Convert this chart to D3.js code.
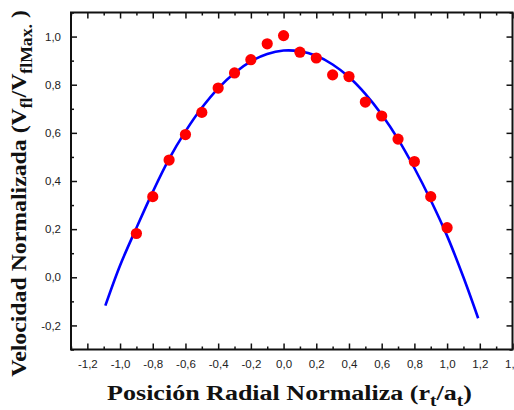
<!DOCTYPE html>
<html>
<head>
<meta charset="utf-8">
<script src="https://cdn.jsdelivr.net/npm/d3@7"></script>
<style>
  html, body { margin: 0; padding: 0; background: #fff; overflow: hidden; }
  svg { display: block; }
</style>
</head>
<body>
<svg id="chart" width="514" height="410"></svg>
<script>
// Measured points (normalized radial position, normalized velocity)
const pointX = [-0.9, -0.8, -0.7, -0.6, -0.5, -0.4, -0.3, -0.2, -0.1, 0.0, 0.1, 0.2, 0.3, 0.4, 0.5, 0.6, 0.7, 0.8, 0.9, 1.0];
const pointY = [0.182, 0.335, 0.487, 0.593, 0.685, 0.786, 0.849, 0.904, 0.970, 1.004, 0.935, 0.911, 0.841, 0.834, 0.728, 0.670, 0.574, 0.481, 0.335, 0.206];

// Fitted curve
const curveX = [-1.09, -1.0, -0.9, -0.8, -0.7, -0.6, -0.5, -0.4, -0.3, -0.2, -0.1, 0.0, 0.1, 0.2, 0.3, 0.4, 0.5, 0.6, 0.7, 0.8, 0.9, 1.0, 1.1, 1.19];
const curveY = [-0.118, 0.049, 0.205, 0.355, 0.492, 0.606, 0.704, 0.785, 0.849, 0.897, 0.928, 0.942, 0.939, 0.920, 0.884, 0.832, 0.762, 0.676, 0.574, 0.454, 0.320, 0.172, 0.0, -0.170];

// Tick values and labels
const xTicks = [-1.2, -1.0, -0.8, -0.6, -0.4, -0.2, 0.0, 0.2, 0.4, 0.6, 0.8, 1.0, 1.2, 1.4];
const xMinor = [-1.3, -1.1, -0.9, -0.7, -0.5, -0.3, -0.1, 0.1, 0.3, 0.5, 0.7, 0.9, 1.1, 1.3];
const yTicks = [-0.2, 0.0, 0.2, 0.4, 0.6, 0.8, 1.0];
const yMinor = [-0.3, -0.1, 0.1, 0.3, 0.5, 0.7, 0.9, 1.1];

const xDomain = [-1.3, 1.4];
const yDomain = [-0.3, 1.1];

const svg = d3.select("#chart");
const L = 71, R = 512.5, T = 12.5, B = 349.5;

const x = d3.scaleLinear().domain(xDomain).range([L, R]);
const y = d3.scaleLinear().domain(yDomain).range([B, T]);

const fmt = d => d3.format(".1f")(d).replace(".", ",").replace("−", "-");

const tickColor = "#111";
const labelFont = "'Liberation Sans', Arial, sans-serif";

// Axes (ticks inward)
function drawAxis(axisGen, tx, ty, minorGen) {
  const g = svg.append("g").attr("transform", `translate(${tx},${ty})`).call(axisGen);
  g.select(".domain").remove();
  g.selectAll(".tick line").attr("stroke", tickColor).attr("stroke-width", 1.5);
  g.selectAll(".tick text").attr("fill", "#222").style("font-family", labelFont).style("font-size", "11.5px");
  const gm = svg.append("g").attr("transform", `translate(${tx},${ty})`).call(minorGen);
  gm.select(".domain").remove();
  gm.selectAll(".tick line").attr("stroke", tickColor).attr("stroke-width", 1.5);
  gm.selectAll(".tick text").remove();
  return g;
}

drawAxis(
  d3.axisBottom(x).tickValues(xTicks).tickSize(-6).tickPadding(10).tickFormat(fmt),
  0, B,
  d3.axisBottom(x).tickValues(xMinor).tickSize(-3).tickFormat(""));
drawAxis(
  d3.axisTop(x).tickValues(xTicks).tickSize(-6).tickFormat(""),
  0, T,
  d3.axisTop(x).tickValues(xMinor).tickSize(-3).tickFormat(""));
drawAxis(
  d3.axisLeft(y).tickValues(yTicks).tickSize(-6).tickPadding(10).tickFormat(fmt),
  L, 0,
  d3.axisLeft(y).tickValues(yMinor).tickSize(-3).tickFormat(""));
drawAxis(
  d3.axisRight(y).tickValues(yTicks).tickSize(-6).tickFormat(""),
  R, 0,
  d3.axisRight(y).tickValues(yMinor).tickSize(-3).tickFormat(""));

// Frame
svg.append("rect")
  .attr("x", L).attr("y", T).attr("width", R - L).attr("height", B - T)
  .attr("fill", "none").attr("stroke", "#111").attr("stroke-width", 2);

// Fitted curve
const curveData = curveX.map((v, i) => [v, curveY[i]]);
svg.append("path")
  .datum(curveData)
  .attr("fill", "none")
  .attr("stroke", "#0000ff")
  .attr("stroke-width", 2.6)
  .attr("d", d3.line().x(d => x(d[0])).y(d => y(d[1])).curve(d3.curveCatmullRom));

// Points
const pts = pointX.map((v, i) => [v, pointY[i]]);
svg.append("g").selectAll("circle").data(pts).join("circle")
  .attr("cx", d => x(d[0]))
  .attr("cy", d => y(d[1]))
  .attr("r", 5.6)
  .attr("fill", "#ff0000");

// Axis titles
const titleFont = "'Liberation Serif', 'Times New Roman', serif";
function makeTitle(parts) {
  const t = svg.append("text")
    .attr("text-anchor", "middle")
    .style("font-family", titleFont)
    .style("font-weight", "bold")
    .style("font-size", "21.5px")
    .attr("fill", "#111");
  parts.forEach(([txt, sub]) => {
    const s = t.append("tspan").text(txt);
    if (sub === 1) s.attr("dy", 6).style("font-size", "16px");
    if (sub === -1) s.attr("dy", -6);
  });
  return t;
}

const xt = makeTitle([["Posición Radial Normaliza (r", 0], ["t", 1], ["/a", -1], ["t", 1], [")", -1]]);
const xw = xt.node().getBBox().width;
xt.attr("transform", `translate(289.5,400) scale(${365 / xw},1)`);

const yt = makeTitle([["Velocidad Normalizada (V", 0], ["fl", 1], ["/V", -1], ["flMax.", 1], [" )", -1]]);
const yw = yt.node().getBBox().width;
yt.attr("transform", `translate(26,193.5) rotate(-90) scale(${367 / yw},1)`);
</script>
</body>
</html>
